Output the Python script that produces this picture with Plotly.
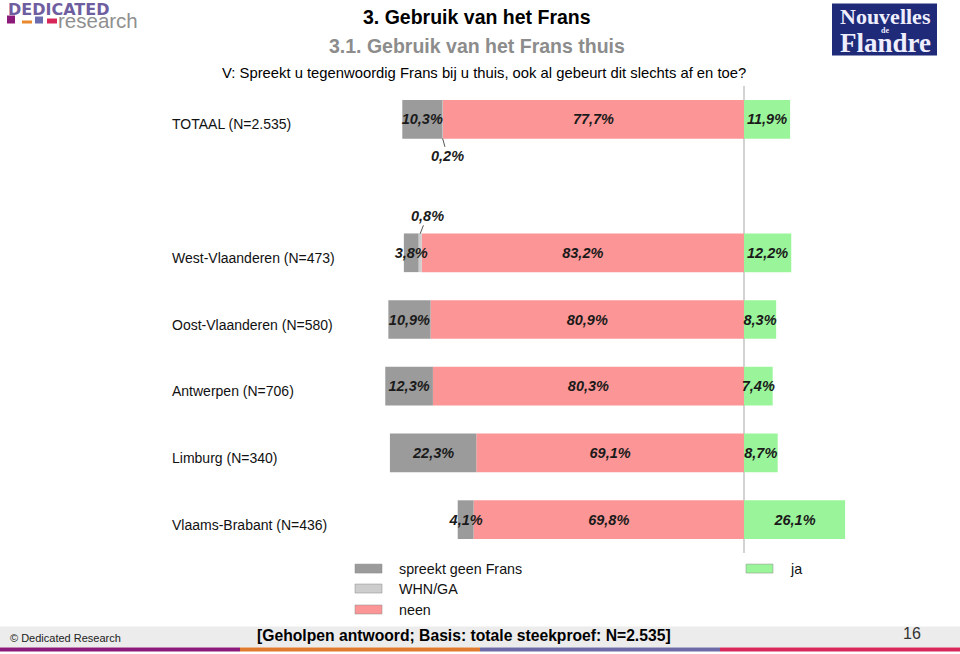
import plotly.graph_objects as go

# data
groepen = ["TOTAAL (N=2.535)", " ", "West-Vlaanderen (N=473)", "Oost-Vlaanderen (N=580)",
           "Antwerpen (N=706)", "Limburg (N=340)", "Vlaams-Brabant (N=436)"]
geen_frans = [10.3, None, 3.8, 10.9, 12.3, 22.3, 4.1]
whn_ga = [0.2, None, 0.8, 0.0, 0.0, 0.0, 0.0]
neen = [77.7, None, 83.2, 80.9, 80.3, 69.1, 69.8]
ja = [11.9, None, 12.2, 8.3, 7.4, 8.7, 26.1]

FONT = "Liberation Sans, Arial, sans-serif"
SERIF = "Liberation Serif, serif"
DGREY = "#9b9b9b"
LGREY = "#cdcdcd"
RED = "#fc9696"
GREEN = "#9af59a"


def fmt(v):
    return "" if v is None else ("%.1f%%" % v).replace(".", ",")


def neg(vals):
    return [None if v is None else -v for v in vals]


fig = go.Figure()

# relative mode: first negative trace sits next to zero
series = [
    ("neen", neen, RED, True),
    ("WHN/GA", whn_ga, LGREY, False),
    ("spreekt geen Frans", geen_frans, DGREY, True),
]
for naam, vals, kleur, labels in series:
    fig.add_trace(go.Bar(
        y=groepen, x=neg(vals), orientation="h", name=naam,
        marker=dict(color=kleur, line=dict(width=0)),
        text=[fmt(v) if labels else "" for v in vals],
        texttemplate="<b><i>%{text}</i></b>",
        textposition="inside", insidetextanchor="middle", textangle=0,
        textfont=dict(family=FONT, size=14.5, color="#1a1a1a"),
        constraintext="none", cliponaxis=False, width=0.58,
        showlegend=False,
    ))

fig.add_trace(go.Bar(
    y=groepen, x=ja, orientation="h", name="ja",
    marker=dict(color=GREEN, line=dict(width=0)),
    text=[fmt(v) for v in ja], texttemplate="<b><i>%{text}</i></b>",
    textposition="inside", insidetextanchor="middle", textangle=0,
    textfont=dict(family=FONT, size=14.5, color="#1a1a1a"),
    constraintext="none", cliponaxis=False, width=0.58, showlegend=False,
))

# small WHN/GA labels with leader lines
for i, (g, w, n) in enumerate(zip(groepen, whn_ga, neen)):
    if w and w > 0:
        onder = i == 0
        fig.add_annotation(
            x=-(n + w / 2), y=g, xref="x", yref="y",
            text="<b><i>" + fmt(w) + "</i></b>", showarrow=True,
            arrowhead=0, arrowwidth=1, arrowcolor="#555",
            ax=5 if onder else 7, ay=18 if onder else -18,
            yshift=-19 if onder else 19,
            font=dict(family=FONT, size=14.5, color="#1a1a1a"),
        )

# zero line
fig.add_shape(type="line", xref="x", yref="paper", x0=0, x1=0, y0=0, y1=1,
              line=dict(color="#c4c4c4", width=1.5), layer="below")

L, R, T, B = 150, 900, 85.6, 553.4
PW, PH = R - L, B - T


def px(x):
    return (x - L) / PW


def py(y):
    return (B - y) / PH


def tekst(x, y, t, size, color="#000", anchor="center", family=FONT):
    fig.add_annotation(x=px(x), y=py(y), xref="paper", yref="paper",
                       xanchor=anchor, yanchor="middle", text=t, showarrow=False,
                       borderpad=0, font=dict(family=family, size=size, color=color))


# category labels (left aligned)
for g in groepen:
    if g.strip():
        fig.add_annotation(x=px(170), y=g, xref="paper", yref="y", xanchor="left",
                           yanchor="middle", yshift=-5, text=g, showarrow=False,
                           font=dict(family=FONT, size=14, color="#111"))

# legend
leg = [("spreekt geen Frans", DGREY, 355, 569), ("WHN/GA", LGREY, 355, 589),
       ("neen", RED, 355, 610), ("ja", GREEN, 746, 569)]
for naam, kleur, lx, ly in leg:
    fig.add_shape(type="rect", xref="paper", yref="paper",
                  x0=px(lx), x1=px(lx + 27), y0=py(ly + 4.5), y1=py(ly - 4.5),
                  fillcolor=kleur, line=dict(color="#8a8a8a", width=0.5))
    tekst(lx + 43, ly, naam, 14.3, "#111", "left")

# titles
tekst(477, 16, "<b>3. Gebruik van het Frans</b>", 19.5)
tekst(477, 46, "<b>3.1. Gebruik van het Frans thuis</b>", 19.5, "#8c8c8c")
tekst(484, 73, "V: Spreekt u tegenwoordig Frans bij u thuis, ook al gebeurt dit slechts af en toe?", 14.8)

# logo left
tekst(7, 9, "<b>DEDICATED</b>", 16, "#6e5ea0", "left", "DejaVu Sans, sans-serif")
tekst(57, 20, "research", 20.5, "#8f8f8f", "left")
for kx, kx1, ky0, kc in [(7, 15, 15, "#8b1a7a"), (22, 32, 20, "#e8892e"),
                         (35, 43, 16, "#6b6bb0"), (47, 57, 18, "#d8285a")]:
    fig.add_shape(type="rect", xref="paper", yref="paper",
                  x0=px(kx), x1=px(kx1), y0=py(23), y1=py(ky0),
                  fillcolor=kc, line=dict(width=0))

# logo right
fig.add_shape(type="rect", xref="paper", yref="paper",
              x0=px(832), x1=px(937), y0=py(55), y1=py(3),
              fillcolor="#1f2a78", line=dict(width=0))
tekst(885, 16, "<b>Nouvelles</b>", 22, "#eef", family=SERIF)
tekst(885, 30, "<b>de</b>", 8, "#eef", family=SERIF)
tekst(885, 43, "<b>Flandre</b>", 27, "#eef", family=SERIF)

# footer
fig.add_shape(type="rect", xref="paper", yref="paper",
              x0=px(0), x1=px(960), y0=py(648), y1=py(627),
              fillcolor="#ececec", line=dict(width=0))
for i, c in enumerate(["#8b1a7a", "#e07a2e", "#6e6aa8", "#d8285a"]):
    fig.add_shape(type="rect", xref="paper", yref="paper",
                  x0=px(i * 240), x1=px((i + 1) * 240), y0=py(652), y1=py(648),
                  fillcolor=c, line=dict(width=0))
tekst(9, 639, "© Dedicated Research", 11, "#222", "left")
tekst(464, 636, "<b>[Geholpen antwoord; Basis: totale steekproef: N=2.535]</b>", 15.7)
tekst(912, 634, "16", 16, "#333")

scale = 3.874
fig.update_layout(
    width=960, height=654,
    margin=dict(l=L, r=960 - R, t=T, b=654 - B),
    barmode="relative",
    paper_bgcolor="white", plot_bgcolor="white",
    xaxis=dict(range=[-(744 - L) / scale, (R - 744) / scale], visible=False, fixedrange=True),
    yaxis=dict(type="category", categoryorder="array", categoryarray=groepen,
               range=[6.5, -0.5], visible=False),
    font=dict(family=FONT),
)

fig.write_html("out.html", config={"displayModeBar": False},
               post_script="document.body.style.margin='0px';")
